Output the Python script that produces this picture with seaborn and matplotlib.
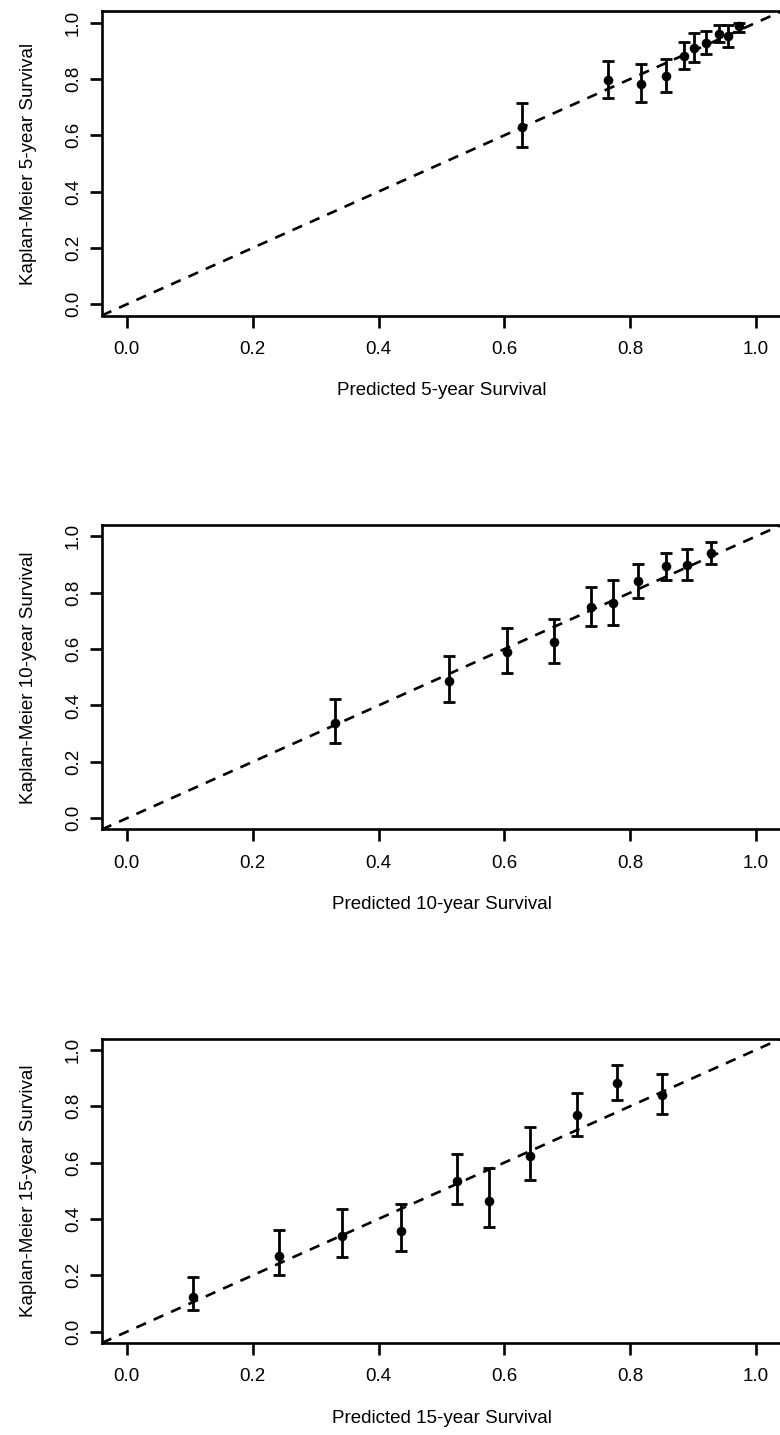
import numpy as np
import pandas as pd
import matplotlib
matplotlib.use("Agg")
import matplotlib.pyplot as plt
import seaborn as sns

# ---------------- data ----------------
pred5 = [0.628, 0.764, 0.817, 0.856, 0.886, 0.902, 0.920, 0.941, 0.956, 0.973]
km5 = [0.630, 0.796, 0.782, 0.810, 0.883, 0.909, 0.929, 0.961, 0.954, 0.987]
lo5 = [0.559, 0.733, 0.717, 0.752, 0.835, 0.860, 0.888, 0.931, 0.915, 0.968]
hi5 = [0.713, 0.863, 0.853, 0.872, 0.933, 0.962, 0.970, 0.991, 0.991, 0.999]

pred10 = [0.330, 0.512, 0.604, 0.678, 0.738, 0.772, 0.812, 0.856, 0.890, 0.928]
km10 = [0.338, 0.487, 0.590, 0.624, 0.749, 0.764, 0.840, 0.895, 0.899, 0.941]
lo10 = [0.267, 0.411, 0.514, 0.551, 0.683, 0.686, 0.781, 0.846, 0.845, 0.901]
hi10 = [0.422, 0.575, 0.676, 0.706, 0.820, 0.845, 0.902, 0.942, 0.954, 0.981]

pred15 = [0.105, 0.241, 0.342, 0.435, 0.524, 0.576, 0.640, 0.716, 0.779, 0.851]
km15 = [0.124, 0.270, 0.339, 0.359, 0.535, 0.465, 0.625, 0.767, 0.883, 0.839]
lo15 = [0.077, 0.202, 0.265, 0.286, 0.454, 0.370, 0.538, 0.693, 0.823, 0.772]
hi15 = [0.195, 0.361, 0.437, 0.452, 0.629, 0.580, 0.727, 0.846, 0.946, 0.913]

horizons = ["5", "10", "15"]
tick_vals = [0.0, 0.2, 0.4, 0.6, 0.8, 1.0]
tick_labels = ["0.0", "0.2", "0.4", "0.6", "0.8", "1.0"]

panels = [
    (pred5, km5, lo5, hi5),
    (pred10, km10, lo10, hi10),
    (pred15, km15, lo15, hi15),
]

# ---------------- style ----------------
sns.set_style("white")
plt.rcParams["font.family"] = ["Liberation Sans", "DejaVu Sans"]
FS = 13.5

W, H = 780, 1435
fig = plt.figure(figsize=(W / 100, H / 100), dpi=100)

# axes boxes in pixels (top, bottom)
left_px, right_px = 101.7, 781.3
boxes = [(11.4, 315.5), (525.0, 829.5), (1038.5, 1343.0)]

for (top, bot), h, (px, km, lo, hi) in zip(boxes, horizons, panels):
    ax = fig.add_axes([left_px / W, 1 - bot / H, (right_px - left_px) / W, (bot - top) / H])
    df = pd.DataFrame({"pred": px, "km": km, "lo": lo, "hi": hi})

    ax.axline((0, 0), slope=1, color="black", lw=1.9, dashes=(4, 3.2), zorder=1)
    ax.errorbar(df["pred"], df["km"],
                yerr=[df["km"] - df["lo"], df["hi"] - df["km"]],
                fmt="none", ecolor="black", elinewidth=2.0, capsize=4.3,
                capthick=2.0, zorder=2)
    sns.scatterplot(data=df, x="pred", y="km", ax=ax, color="black", s=48,
                    edgecolor="black", linewidth=0, zorder=3)

    ax.set_xlim(-0.04, 1.04)
    ax.set_ylim(-0.04, 1.04)
    ax.set_xticks(tick_vals)
    ax.set_xticklabels(tick_labels, fontsize=FS)
    ax.set_yticks(tick_vals)
    ax.set_yticklabels(tick_labels, fontsize=FS, rotation=90, va="center")
    ax.tick_params(axis="both", which="major", direction="out", length=8.6,
                   width=1.9, color="black", labelcolor="black",
                   bottom=True, left=True, top=False, right=False)
    ax.tick_params(axis="x", pad=9.5)
    ax.tick_params(axis="y", pad=5.5)
    for sp in ax.spines.values():
        sp.set_visible(True)
        sp.set_color("black")
        sp.set_linewidth(1.9)

    ax.set_xlabel(f"Predicted {h}-year Survival", fontsize=FS, color="black")
    ax.set_ylabel(f"Kaplan-Meier {h}-year Survival", fontsize=FS, color="black")
    ax.xaxis.set_label_coords(0.5, -0.22)
    ax.yaxis.set_label_coords(-0.095, 0.5)

fig.savefig("out.png", dpi=100)
